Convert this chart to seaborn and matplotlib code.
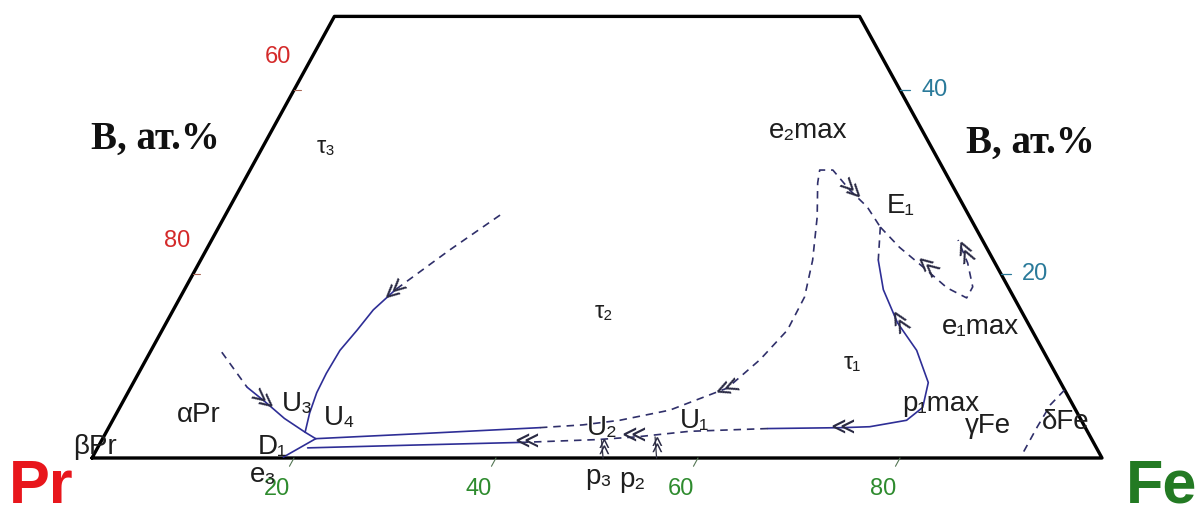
import numpy as np
import matplotlib
matplotlib.use("Agg")
import matplotlib.pyplot as plt
import seaborn as sns

# all compositions are (Fe at.%, B at.%), Pr is the balance
frame_fe = [0, 100, 52, 0, 0]
frame_b = [0, 0, 48, 48, 0]

# D1 -> U4
d1_u4_fe = [18.9, 20.0, 21.1]
d1_u4_b = [0.1, 1.1, 2.1]

# aPr boundary -> U3 -> U4
apr_dash_fe = [7.1, 11.5]
apr_dash_b = [11.5, 7.7]
apr_fe = [11.5, 14.1, 16.9, 19.7, 21.1]
apr_b = [7.7, 6.1, 4.3, 2.8, 2.1]

# tau3 boundary coming down to U3
t3_dash_fe = [27.2, 24.1, 20.9]
t3_dash_b = [26.4, 22.6, 18.3]
t3_fe = [20.9, 19.8, 19.3, 18.7, 18.6, 18.7, 19.1, 19.7]
t3_b = [18.3, 16.1, 13.9, 11.7, 9.2, 7.1, 4.9, 2.8]

# upper valley U4 -> e2max -> E1
up_fe = [21.1, 32.1, 42.7]
up_b = [2.1, 2.7, 3.3]
up_dash_fe = [42.7, 46.8, 50.2, 54.6, 59.1, 60.8, 61.9, 61.8, 60.6, 58.7,
              56.9, 56.4, 57.7, 60.5, 63.1, 65.5]
up_dash_b = [3.3, 3.6, 4.1, 5.2, 7.6, 10.7, 13.9, 17.5, 21.5, 26.2,
             29.9, 31.3, 31.3, 29.1, 27.3, 25.1]

# loop E1 -> e1max
loop_fe = [65.5, 68.5, 72.0, 75.4, 77.9, 77.9, 76.1, 73.9]
loop_b = [25.1, 22.9, 20.7, 18.5, 17.4, 18.6, 21.2, 23.7]

# E1 -> p1max -> U1 -> U2 -> lower valley
e1_dash_fe = [65.5, 67.1]
e1_dash_b = [25.1, 21.5]
p1_fe = [67.1, 69.2, 72.4, 75.8, 78.7, 79.5, 78.6, 75.3, 72.7, 65.3]
p1_b = [21.5, 18.3, 14.7, 11.7, 8.2, 5.5, 4.1, 3.4, 3.3, 3.2]
low_dash_fe = [65.3, 57.7, 52.8, 49.0, 41.8]
low_dash_b = [3.2, 2.9, 2.3, 2.0, 1.7]
low_fe = [41.8, 31.0, 20.8]
low_b = [1.7, 1.4, 1.1]

# peritectic points on the binary
p3_fe = [50.6, 49.5]
p3_b = [0, 1.9]
p2_fe = [55.9, 54.6]
p2_b = [0, 2.3]

# gamma/delta Fe boundary
dfe_fe = [91.9, 91.9, 92.0, 92.6]
dfe_b = [0.7, 3.4, 5.8, 7.4]

# direction arrows: position and screen angle
arrow_fe = [13.5, 20.9, 42.1, 52.4, 59.1, 60.3, 72.7, 72.4, 72.2, 75.0, 49.9, 55.1]
arrow_b = [6.7, 18.3, 1.8, 2.4, 7.6, 29.6, 3.3, 14.7, 20.7, 22.3, 1.2, 1.4]
arrow_ang = [-39, -138, 180, 180, 202, -45, 180, 119.5, 139, 113.5, 90, 90]

# point / phase labels
lab_text = ["βPr", "αPr", "U₃", "U₄", "D₁", "e₃", "U₂", "U₁", "p₃", "p₂",
            "p₁max", "γFe", "δFe", "e₁max", "E₁", "e₂max", "τ₁", "τ₂", "τ₃"]
lab_fe = [-0.3, 8.2, 17.4, 22.4, 17.3, 17.9, 48.9, 57.7, 51.2, 54.7,
          81.1, 87.0, 94.5, 80.9, 66.4, 53.2, 70.1, 42.7, 6.3]
lab_b = [1.2, 4.7, 5.9, 4.3, 1.2, -1.9, 3.3, 4.0, -2.1, -2.4,
         5.9, 3.5, 3.9, 14.2, 27.4, 35.5, 10.3, 15.9, 33.8]

# axis ticks
fe_ticks = [20, 40, 60, 80]
pr_ticks = [80, 60]
b_ticks = [20, 40]


def to_xy(fe, b):
    fe = np.asarray(fe, float)
    b = np.asarray(b, float)
    return fe + b / 2, b


sns.set_theme(style="white")
plt.rcParams["font.family"] = ["Liberation Sans", "DejaVu Sans"]

fig = plt.figure(figsize=(12, 5.14), dpi=100)
ax = fig.add_axes([0, 0, 1, 1])

BLUE = "#2e2e96"
DASH = "#2f2f6a"


def curve(fe, b, dashed=False, color=BLUE, lw=1.2):
    x, y = to_xy(fe, b)
    ls = (0, (4.5, 3.5)) if dashed else "-"
    sns.lineplot(x=x, y=y, sort=False, estimator=None, ax=ax,
                 color=DASH if dashed else color, lw=lw, linestyle=ls)


# frame
x, y = to_xy(frame_fe, frame_b)
sns.lineplot(x=x, y=y, sort=False, estimator=None, ax=ax, color="black", lw=2.4)

curve(d1_u4_fe, d1_u4_b)
curve(apr_dash_fe, apr_dash_b, dashed=True)
curve(apr_fe, apr_b)
curve(t3_dash_fe, t3_dash_b, dashed=True)
curve(t3_fe, t3_b)
curve(up_fe, up_b)
curve(up_dash_fe, up_dash_b, dashed=True)
curve(loop_fe, loop_b, dashed=True)
curve(e1_dash_fe, e1_dash_b, dashed=True)
curve(p1_fe, p1_b)
curve(low_dash_fe, low_dash_b, dashed=True)
curve(low_fe, low_b)
curve(p3_fe, p3_b, color="#333344", lw=0.9)
curve(p2_fe, p2_b, color="#333344", lw=0.9)
curve(dfe_fe, dfe_b, dashed=True)

# arrows
ax_, ay_ = to_xy(arrow_fe, arrow_b)
for i, (xa, ya, ang) in enumerate(zip(ax_, ay_, arrow_ang)):
    ax.text(xa, ya, "≪", rotation=ang - 180, rotation_mode="anchor",
            ha="center", va="center", fontsize=17 if i < 10 else 12,
            family="DejaVu Sans", color="#2a2a44")

# tick marks and labels
for v in fe_ticks:
    tx, ty = to_xy([v, v], [0, -0.9])
    ax.plot(tx, ty, color="#557755", lw=0.8)
    lx, ly = to_xy(v, -3.4)
    ax.text(lx, ly, str(v), color="#2e8b2e", fontsize=17, ha="center", va="center")
for v in pr_ticks:
    bb = 100 - v  # B content on the Pr-B side
    tx, ty = to_xy([0, 0.7], [bb, bb])
    ax.plot(tx, ty, color="#aa6655", lw=0.8)
    lx, ly = to_xy(-3.4, bb + 3.6)
    ax.text(lx, ly, str(v), color="#d42a2a", fontsize=17, ha="center", va="center")
for v in b_ticks:
    tx, ty = to_xy([100 - v, 101 - v], [v, v])
    ax.plot(tx, ty, color="#2a7a9a", lw=0.9)
    lx, ly = to_xy(103.4 - v, v)
    ax.text(lx, ly, str(v), color="#2a7a9a", fontsize=17, ha="center", va="center")

# labels
lx, ly = to_xy(lab_fe, lab_b)
for t, xx, yy in zip(lab_text, lx, ly):
    fs = 17 if t.startswith("τ") else 20
    ax.text(xx, yy, t, fontsize=fs, ha="center", va="center", color="#1e1e1e")

ax.text(*to_xy(-11.0, 34.6), "B, ат.%", family="Liberation Serif",
        fontweight="bold", fontsize=28, ha="center", va="center", color="#111111")
ax.text(*to_xy(75.8, 34.2), "B, ат.%", family="Liberation Serif",
        fontweight="bold", fontsize=28, ha="center", va="center", color="#111111")
ax.text(*to_xy(-3.4, -3.2), "Pr", fontweight="bold", fontsize=44,
        ha="center", va="center", color="#e8161c")
ax.text(*to_xy(107.5, -3.2), "Fe", fontweight="bold", fontsize=44,
        ha="center", va="center", color="#237a23")

ax.set_xlim(-92 / 10.1, (1200 - 92) / 10.1)
ax.set_ylim(-(514 - 458) / 9.2, 458 / 9.2)
ax.axis("off")

fig.savefig("out.png", dpi=100)
